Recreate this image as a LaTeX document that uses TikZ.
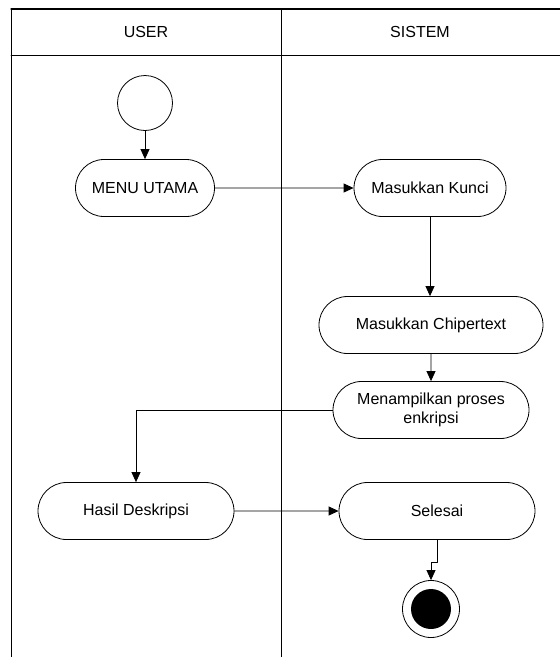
\documentclass[tikz,border=0pt]{standalone}
\usepackage{fontspec}
\setmainfont{Liberation Sans}
\usetikzlibrary{arrows.meta}
\usetikzlibrary{shapes.misc}

\tikzset{
  aktivitas/.style={draw,rounded rectangle,minimum height=57pt,inner sep=2pt,
    align=center,font=\fontsize{16}{18.5}\selectfont},
  lane/.style={line width=0.9pt},
  judul/.style={font=\fontsize{16}{18.5}\selectfont}
}

\begin{document}
\begin{tikzpicture}[line cap=round,line join=round,>={Triangle[length=10pt,width=9pt]},x=1pt,y=-1pt,line width=0.8pt]
\useasboundingbox (0,0) rectangle (560,657);
% swimlanes
\draw[lane,line width=1.3pt] (11,9) -- (560,9);
\draw[lane] (11,55) -- (560,55);
\draw[lane] (11,9) -- (11,657);
\draw[lane] (281,9) -- (281,657);
\node[judul] (user) at (146,32) {USER};
\node[judul] (sistem) at (420,32) {SISTEM};
% aktivitas
\node[draw,circle,minimum size=55pt,inner sep=0pt] (mulai) at (145,103) {};
\node[aktivitas,minimum width=143pt] (menu) at (145,188) {MENU UTAMA};
\node[aktivitas,minimum width=156pt] (kunci) at (430,188) {Masukkan Kunci};
\node[aktivitas,minimum width=228pt] (chiper) at (431,325) {Masukkan Chipertext};
\node[aktivitas,minimum width=200pt] (tampil) at (431,410) {Menampilkan proses\\enkripsi};
\node[aktivitas,minimum width=200pt] (hasil) at (136,511) {Hasil Deskripsi};
\node[aktivitas,minimum width=200pt] (selesai) at (437,511) {Selesai};
\node[draw,circle,minimum size=57pt,inner sep=0pt] (akhir) at (431,609) {};
\fill (akhir.center) circle (20);
% alur
\draw[->] (mulai) -- (menu);
\draw[->] (menu) -- (kunci);
\draw[->] (kunci.south) -- (kunci.south |- chiper.north);
\draw[->] (chiper) -- (tampil);
\draw[->] (tampil.west) -| (hasil.north);
\draw[->] (hasil) -- (selesai);
\draw[->] (selesai.south) -- ++(0,22) -| (akhir.north);
\end{tikzpicture}
\end{document}
